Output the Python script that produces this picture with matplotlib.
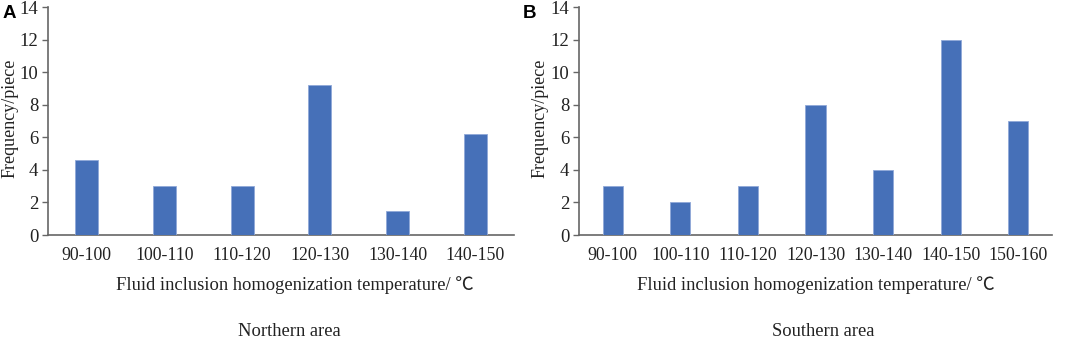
import matplotlib
matplotlib.use("Agg")
import matplotlib.pyplot as plt

cats_a = ["90-100", "100-110", "110-120", "120-130", "130-140", "140-150"]
vals_a = [4.6, 3.0, 3.0, 9.2, 1.45, 6.2]
cats_b = ["90-100", "100-110", "110-120", "120-130", "130-140", "140-150", "150-160"]
vals_b = [3, 2, 3, 8, 4, 12, 7]
yticks = [0, 2, 4, 6, 8, 10, 12, 14]
xlabel = "Fluid inclusion homogenization temperature/ ℃"
ylabel = "Frequency/piece"
titles = ["Northern area", "Southern area"]
panel = ["A", "B"]

W, H = 1065, 339
fig = plt.figure(figsize=(W / 100, H / 100), dpi=100)
serif = ["Liberation Serif", "Noto Sans CJK SC", "DejaVu Serif"]
bar_color = "#4670b8"
spine_c = "#666666"
txt_c = "#222222"

def px(x0, x1, ytop, ybot):
    return [x0 / W, 1 - ybot / H, (x1 - x0) / W, (ybot - ytop) / H]

axes_pos = [px(48, 514, 7, 235), px(579, 1052, 7, 235)]
data = [(cats_a, vals_a), (cats_b, vals_b)]
xl_cx = [295, 816]
tt_cx = [289, 823]
yl_cx = [10, 540]
panel_x = [3, 523]

for i, (cats, vals) in enumerate(data):
    ax = fig.add_axes(axes_pos[i])
    xs = list(range(len(cats)))
    ax.bar(xs, vals, width=0.3, color=bar_color, edgecolor="#8fa8d8", linewidth=0.6, zorder=3)
    ax.set_xlim(-0.5, len(cats) - 0.5)
    ax.set_ylim(0, 14)
    ax.set_yticks(yticks)
    ax.set_yticklabels([str(t) for t in yticks], fontfamily=serif, fontsize=13.5, color=txt_c)
    ax.set_xticks(xs)
    ax.set_xticklabels(cats, fontfamily=serif, fontsize=12.8, color=txt_c)
    ax.tick_params(axis="x", length=0, pad=9)
    ax.tick_params(axis="y", direction="out", length=4, width=1, color=spine_c, pad=3)
    for s in ["top", "right"]:
        ax.spines[s].set_visible(False)
    for s in ["left", "bottom"]:
        ax.spines[s].set_color(spine_c)
        ax.spines[s].set_linewidth(1.2)
    fig.text(yl_cx[i] / W, 1 - 118 / H, ylabel, rotation=90, ha="center", va="center",
             fontfamily=serif, fontsize=13, color=txt_c)
    fig.text(xl_cx[i] / W, 1 - 285 / H, xlabel, ha="center", va="center",
             fontfamily=serif, fontsize=13.3, color=txt_c)
    fig.text(tt_cx[i] / W, 1 - 331 / H, titles[i], ha="center", va="center",
             fontfamily=serif, fontsize=13.3, color=txt_c)
    fig.text(panel_x[i] / W, 1 - 14 / H, panel[i], ha="left", va="center",
             fontfamily=["Liberation Sans", "DejaVu Sans"], fontweight="bold", fontsize=13.5, color="black")

fig.savefig("out.png", dpi=100)
